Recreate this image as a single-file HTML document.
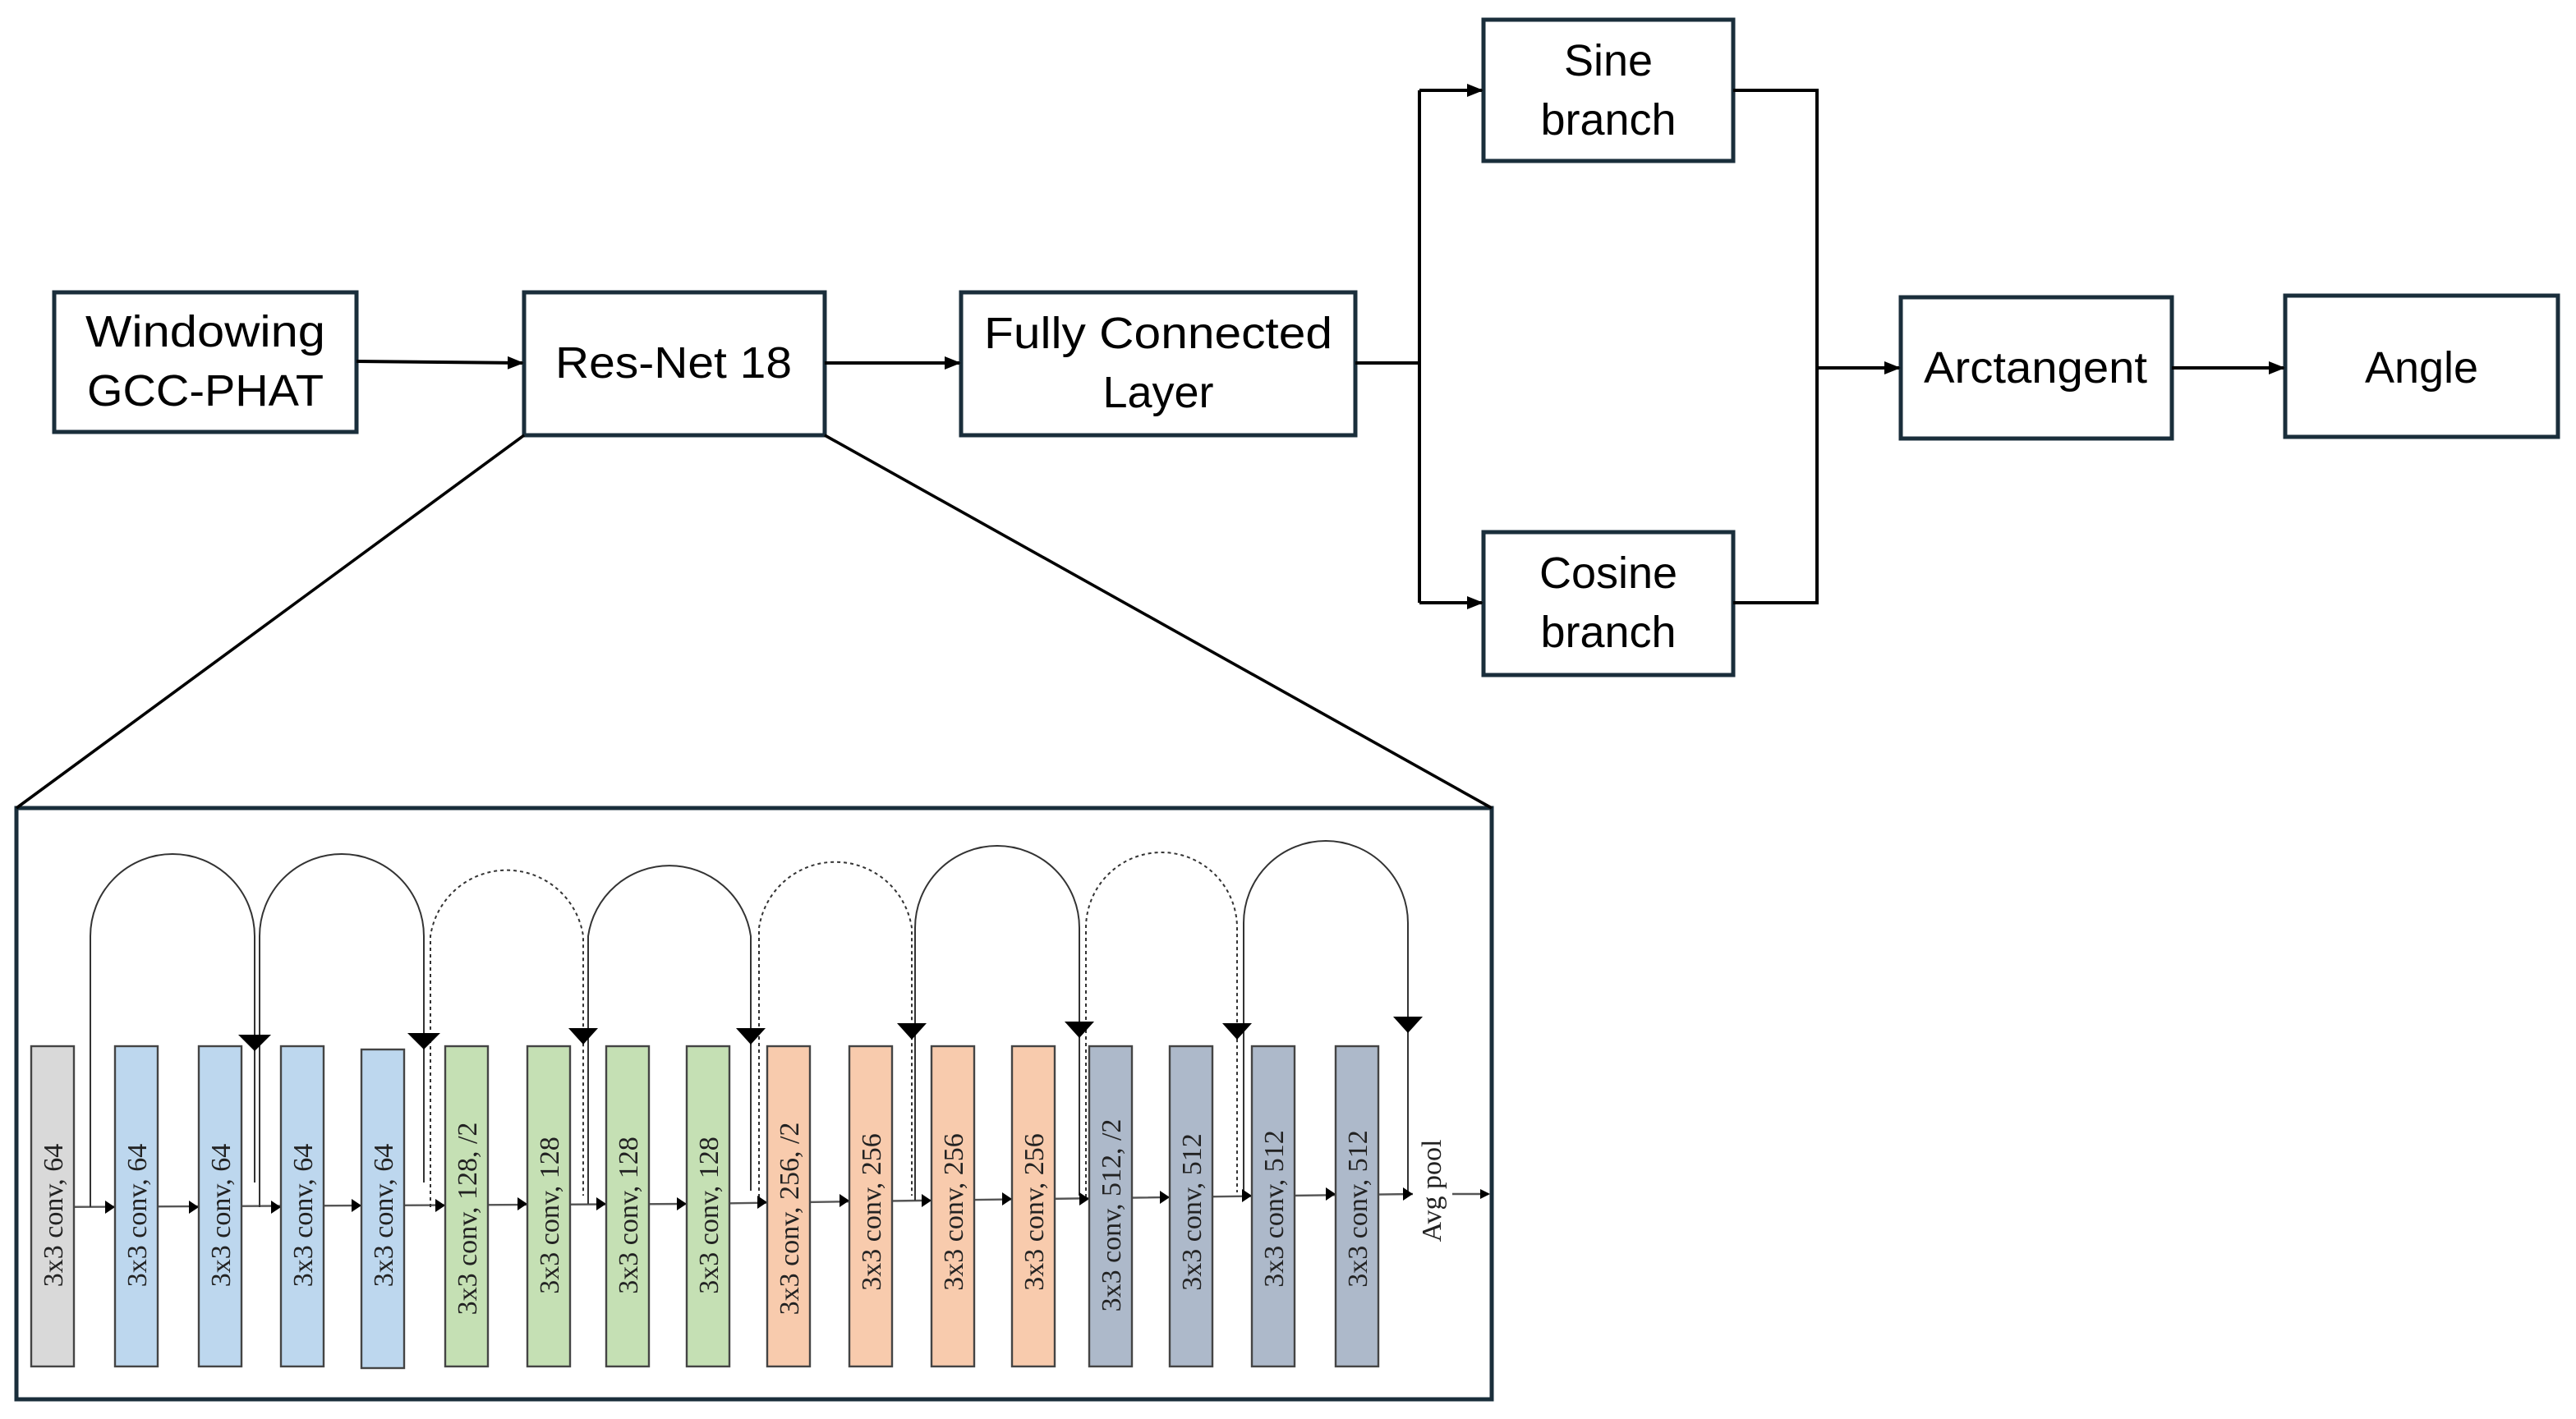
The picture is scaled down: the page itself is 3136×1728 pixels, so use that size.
<!DOCTYPE html>
<html><head><meta charset="utf-8"><style>html,body{margin:0;padding:0;background:#fff}svg{display:block}</style></head>
<body>
<svg width="3136" height="1728" viewBox="0 0 1568 864" xmlns="http://www.w3.org/2000/svg">
<defs>
<marker id="a" markerWidth="10" markerHeight="10" refX="9" refY="5" orient="auto" markerUnits="userSpaceOnUse"><path d="M0,1 L10,5 L0,9 z" fill="#000"/></marker>
<marker id="s" markerWidth="6" markerHeight="6" refX="5" refY="3" orient="auto" markerUnits="userSpaceOnUse"><path d="M0,0 L6,3 L0,6 z" fill="#000"/></marker>
</defs>
<g fill="#fff" stroke="#1a2e3b" stroke-width="2.5">
<rect x="33" y="178" width="184" height="85"/>
<rect x="319" y="178" width="183" height="87"/>
<rect x="585" y="178" width="240" height="87"/>
<rect x="903" y="12" width="152" height="86"/>
<rect x="903" y="324" width="152" height="87"/>
<rect x="1157" y="181" width="165" height="86"/>
<rect x="1391" y="180" width="166" height="86"/>
<rect x="10" y="492" width="898" height="360" fill="none"/>
</g>
<g font-family="Liberation Sans, sans-serif" font-size="27" text-anchor="middle" fill="#000">
<text x="125" y="211" textLength="146" lengthAdjust="spacingAndGlyphs">Windowing</text>
<text x="125" y="247" textLength="144" lengthAdjust="spacingAndGlyphs">GCC-PHAT</text>
<text x="410" y="230" textLength="144" lengthAdjust="spacingAndGlyphs">Res-Net 18</text>
<text x="705" y="212" textLength="212" lengthAdjust="spacingAndGlyphs">Fully Connected</text>
<text x="705" y="248">Layer</text>
<text x="979" y="46">Sine</text>
<text x="979" y="82">branch</text>
<text x="979" y="358">Cosine</text>
<text x="979" y="394">branch</text>
<text x="1239" y="233" textLength="136" lengthAdjust="spacingAndGlyphs">Arctangent</text>
<text x="1474" y="233">Angle</text>
</g>
<g stroke="#000" stroke-width="2" fill="none">
<line x1="217" y1="220" x2="318" y2="221" marker-end="url(#a)"/>
<line x1="502" y1="221" x2="584" y2="221" marker-end="url(#a)"/>
<polyline points="825,221 864,221"/>
<line x1="864" y1="55" x2="864" y2="367"/>
<line x1="864" y1="55" x2="902" y2="55" marker-end="url(#a)"/>
<line x1="864" y1="367" x2="902" y2="367" marker-end="url(#a)"/>
<polyline points="1055,55 1106,55 1106,367 1055,367"/>
<line x1="1106" y1="224" x2="1156" y2="224" marker-end="url(#a)"/>
<line x1="1322" y1="224" x2="1390" y2="224" marker-end="url(#a)"/>
<line x1="319" y1="265" x2="10" y2="492" stroke-width="1.8"/>
<line x1="502" y1="265" x2="908" y2="492" stroke-width="1.8"/>
</g>
<g stroke="#555" stroke-width="1.2" fill="none">
<polyline points="19,735 420,733 560,731 860,727"/>
<line x1="884" y1="727" x2="906" y2="727" marker-end="url(#s)"/>
</g>
<g stroke="#333" stroke-width="1" fill="none">
<path d="M55,735 L55,570 A50,50 0 0 1 155,570 L155,720"/>
<path d="M158,735 L158,570 A50,50 0 0 1 258,570 L258,720"/>
<path d="M262,735 L262,570 A47,47 0 0 1 355,570 L355,728" stroke-dasharray="2,2"/>
<path d="M358,733 L358,570 A50,50 0 0 1 457,570 L457,725"/>
<path d="M462,733 L462,565 A47,47 0 0 1 555,565 L555,728" stroke-dasharray="2,2"/>
<path d="M557,731 L557,565 A50,50 0 0 1 657,565 L657,728"/>
<path d="M661,729 L661,565 A46,46 0 0 1 753,565 L753,726" stroke-dasharray="2,2"/>
<path d="M757,728 L757,562 A50,50 0 0 1 857,562 L857,726"/>
</g>
<g fill="#000">
<path d="M145,630 L165,630 L155,640z"/><path d="M248,629 L268,629 L258,639z"/>
<path d="M346,626 L364,626 L355,636z"/><path d="M448,626 L466,626 L457,636z"/>
<path d="M546,623 L564,623 L555,633z"/><path d="M648,622 L666,622 L657,632z"/>
<path d="M744,623 L762,623 L753,633z"/><path d="M848,619 L866,619 L857,629z"/>
<!-- small arrows on main line -->
<path d="M64,731 L70,735 L64,739z"/><path d="M115,731 L121,735 L115,739z"/>
<path d="M165,731 L171,735 L165,739z"/><path d="M214,730 L220,734 L214,738z"/>
<path d="M265,730 L271,734 L265,738z"/><path d="M315,729 L321,733 L315,737z"/>
<path d="M363,729 L369,733 L363,737z"/><path d="M412,729 L418,733 L412,737z"/>
<path d="M461,728 L467,732 L461,736z"/><path d="M511,727 L517,731 L511,735z"/>
<path d="M561,727 L567,731 L561,735z"/><path d="M610,726 L616,730 L610,734z"/>
<path d="M657,726 L663,730 L657,734z"/><path d="M706,725 L712,729 L706,733z"/>
<path d="M756,724 L762,728 L756,732z"/><path d="M807,723 L813,727 L807,731z"/>
<path d="M854,723 L860,727 L854,731z"/>
</g>
<g stroke="#444" stroke-width="1.2">
<rect x="19" y="637" width="26" height="195" fill="#d9d9d9"/>
<rect x="70" y="637" width="26" height="195" fill="#bdd7ee"/>
<rect x="121" y="637" width="26" height="195" fill="#bdd7ee"/>
<rect x="171" y="637" width="26" height="195" fill="#bdd7ee"/>
<rect x="220" y="639" width="26" height="194" fill="#bdd7ee"/>
<rect x="271" y="637" width="26" height="195" fill="#c5e0b4"/>
<rect x="321" y="637" width="26" height="195" fill="#c5e0b4"/>
<rect x="369" y="637" width="26" height="195" fill="#c5e0b4"/>
<rect x="418" y="637" width="26" height="195" fill="#c5e0b4"/>
<rect x="467" y="637" width="26" height="195" fill="#f8cbad"/>
<rect x="517" y="637" width="26" height="195" fill="#f8cbad"/>
<rect x="567" y="637" width="26" height="195" fill="#f8cbad"/>
<rect x="616" y="637" width="26" height="195" fill="#f8cbad"/>
<rect x="663" y="637" width="26" height="195" fill="#adb9ca"/>
<rect x="712" y="637" width="26" height="195" fill="#adb9ca"/>
<rect x="762" y="637" width="26" height="195" fill="#adb9ca"/>
<rect x="813" y="637" width="26" height="195" fill="#adb9ca"/>
</g>
<g font-family="Liberation Serif, serif" font-size="17" text-anchor="middle" fill="#222">
<text transform="translate(38,740) rotate(-90)">3x3 conv, 64</text>
<text transform="translate(89,740) rotate(-90)">3x3 conv, 64</text>
<text transform="translate(140,740) rotate(-90)">3x3 conv, 64</text>
<text transform="translate(190,740) rotate(-90)">3x3 conv, 64</text>
<text transform="translate(239,740) rotate(-90)">3x3 conv, 64</text>
<text transform="translate(290,742) rotate(-90)">3x3 conv, 128, /2</text>
<text transform="translate(340,740) rotate(-90)">3x3 conv, 128</text>
<text transform="translate(388,740) rotate(-90)">3x3 conv, 128</text>
<text transform="translate(437,740) rotate(-90)">3x3 conv, 128</text>
<text transform="translate(486,742) rotate(-90)">3x3 conv, 256, /2</text>
<text transform="translate(536,738) rotate(-90)">3x3 conv, 256</text>
<text transform="translate(586,738) rotate(-90)">3x3 conv, 256</text>
<text transform="translate(635,738) rotate(-90)">3x3 conv, 256</text>
<text transform="translate(682,740) rotate(-90)">3x3 conv, 512, /2</text>
<text transform="translate(731,738) rotate(-90)">3x3 conv, 512</text>
<text transform="translate(781,736) rotate(-90)">3x3 conv, 512</text>
<text transform="translate(832,736) rotate(-90)">3x3 conv, 512</text>
<text transform="translate(877,725) rotate(-90)">Avg pool</text>
</g>
</svg>
</body></html>
